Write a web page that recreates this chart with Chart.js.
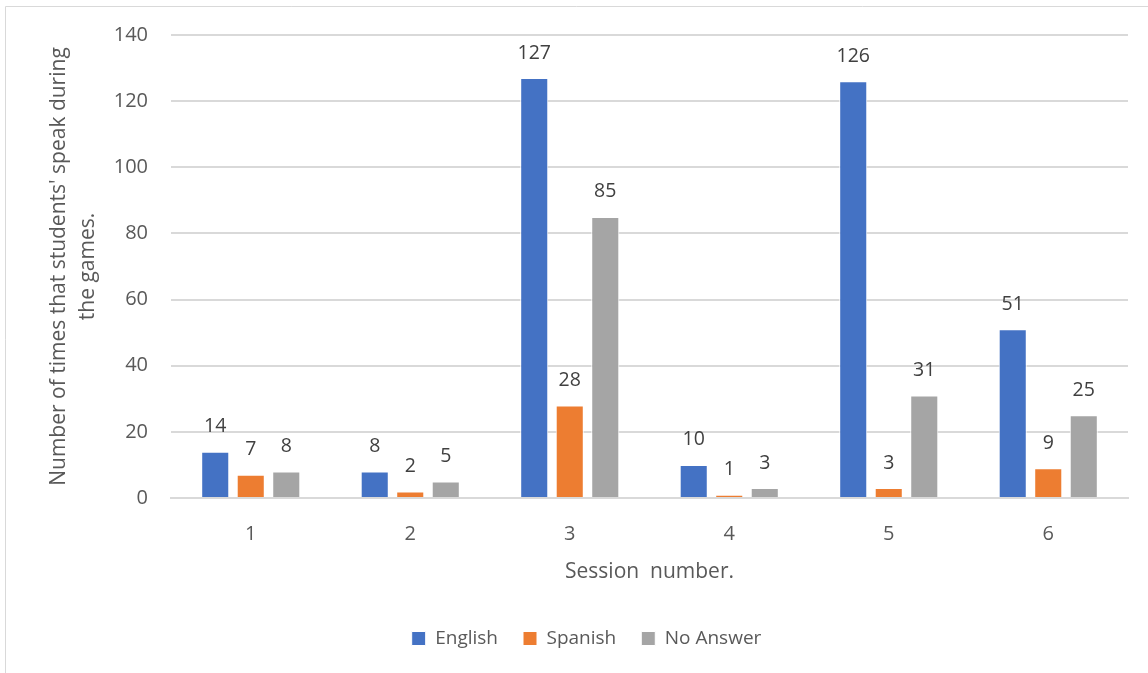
<!DOCTYPE html>
<html>
<head>
<meta charset="utf-8">
<script src="https://cdn.jsdelivr.net/npm/chart.js@4.4.1/dist/chart.umd.min.js"></script>
<style>
  html, body { margin: 0; padding: 0; background: #ffffff; }
  #wrap { position: relative; width: 1148px; height: 673px; }
  canvas { display: block; }
</style>
</head>
<body>
<div id="wrap"><canvas id="chart" width="1148" height="673"></canvas></div>
<script>
// Session categories and counts per language
const sessions = ['1', '2', '3', '4', '5', '6'];
const english = [14, 8, 127, 10, 126, 51];
const spanish = [7, 2, 28, 1, 3, 9];
const noAnswer = [8, 5, 85, 3, 31, 25];
const yTicks = [0, 20, 40, 60, 80, 100, 120, 140];

const FONT = '"Open Sans", "Noto Sans", sans-serif';

// Writes each bar's value just above it
const valueLabels = {
  id: 'valueLabels',
  afterDatasetsDraw(chart) {
    const ctx = chart.ctx;
    ctx.save();
    ctx.font = '19.5px ' + FONT;
    ctx.fillStyle = '#404040';
    ctx.textAlign = 'center';
    ctx.textBaseline = 'middle';
    chart.data.datasets.forEach((ds, i) => {
      chart.getDatasetMeta(i).data.forEach((bar, j) => {
        ctx.fillText(String(ds.data[j]), bar.x, bar.y - 25);
      });
    });
    ctx.restore();
  }
};

// Light frame along the top and left edges
const frame = {
  id: 'frame',
  beforeDraw(chart) {
    const ctx = chart.ctx;
    ctx.save();
    ctx.strokeStyle = '#d9d9d9';
    ctx.lineWidth = 1;
    ctx.beginPath();
    ctx.moveTo(5.5, 673);
    ctx.lineTo(5.5, 6.5);
    ctx.lineTo(1148, 6.5);
    ctx.stroke();
    ctx.restore();
  }
};

const barStyle = { borderColor: '#ffffff', borderWidth: 1, borderSkipped: 'bottom' };

new Chart(document.getElementById('chart'), {
  type: 'bar',
  data: {
    labels: sessions,
    datasets: [
      Object.assign({ label: 'English', data: english, backgroundColor: '#4472c4' }, barStyle),
      Object.assign({ label: 'Spanish', data: spanish, backgroundColor: '#ed7d31' }, barStyle),
      Object.assign({ label: 'No Answer', data: noAnswer, backgroundColor: '#a5a5a5' }, barStyle)
    ]
  },
  options: {
    responsive: false,
    animation: false,
    devicePixelRatio: 1,
    layout: { padding: { top: 35, left: 45, right: 20, bottom: 15 } },
    datasets: { bar: { categoryPercentage: 0.668, barPercentage: 0.79 } },
    scales: {
      x: {
        grid: { display: false, drawTicks: false },
        border: { display: true, color: '#d9d9d9', width: 2 },
        ticks: { color: '#595959', font: { family: FONT, size: 20 }, padding: 24 },
        title: {
          display: true,
          text: 'Session  number.',
          color: '#595959',
          font: { family: FONT, size: 21, lineHeight: 1.4 },
          padding: { top: 0, bottom: 17 }
        },
        afterFit(scale) { scale.height = 106; }
      },
      y: {
        min: 0,
        max: 140,
        afterBuildTicks(scale) { scale.ticks = yTicks.map(v => ({ value: v })); },
        grid: { color: '#d9d9d9', lineWidth: 2, drawTicks: false },
        border: { display: false },
        ticks: { color: '#595959', font: { family: FONT, size: 20 }, padding: 23 },
        title: {
          display: true,
          text: ["Number of times that students' speak during", 'the games.'],
          color: '#595959',
          font: { family: FONT, size: 21, lineHeight: 1.35 },
          padding: { top: 0, bottom: 0 }
        },
        afterFit(scale) { scale.width = 126; }
      }
    },
    plugins: {
      legend: {
        position: 'bottom',
        labels: {
          color: '#595959',
          font: { family: FONT, size: 19 },
          boxWidth: 14,
          boxHeight: 14,
          padding: 25
        }
      },
      tooltip: { enabled: false }
    }
  },
  plugins: [valueLabels, frame]
});
</script>
</body>
</html>
